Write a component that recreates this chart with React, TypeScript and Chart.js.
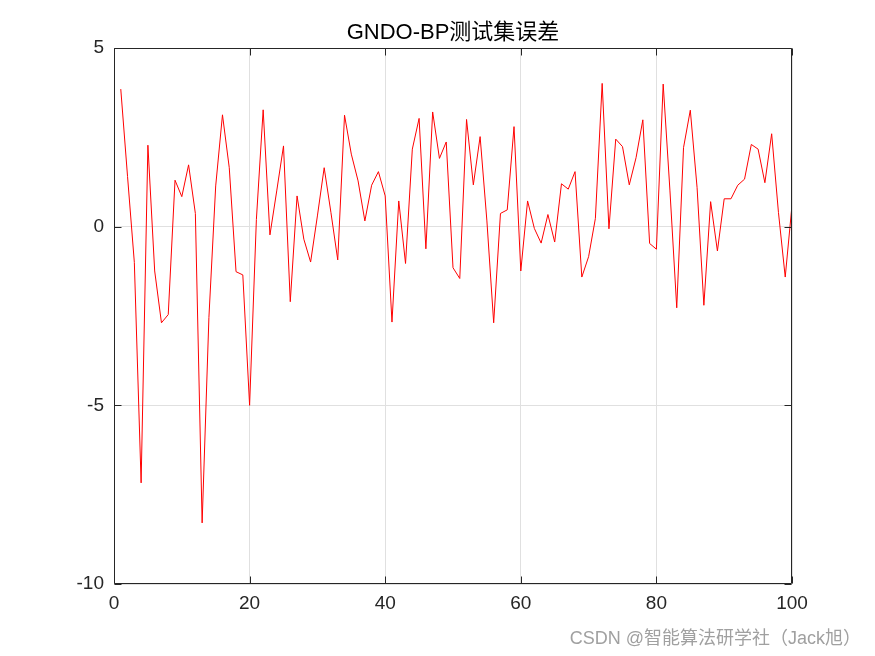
import React, { useEffect, useRef } from "react";
import { Chart, registerables } from "chart.js";

Chart.register(...registerables);

const chartTitle = "GNDO-BP测试集误差";
const watermark = "CSDN @智能算法研学社（Jack旭）";
const xTicks = [0, 20, 40, 60, 80, 100];
const yTicks = [-10, -5, 0, 5];

const errors = [
  3.85, 1.4, -1.0, -7.17, 2.28, -1.24, -2.69, -2.46, 1.3, 0.84,
  1.73, 0.37, -8.29, -2.54, 1.14, 3.13, 1.65, -1.26, -1.35, -5.0,
  0.2, 3.27, -0.23, 1.0, 2.26, -2.1, 0.86, -0.35, -0.99, 0.3,
  1.65, 0.39, -0.93, 3.12, 2.03, 1.28, 0.16, 1.16, 1.54, 0.86,
  -2.67, 0.72, -1.03, 2.17, 3.03, -0.62, 3.21, 1.91, 2.37, -1.15,
  -1.45, 3.0, 1.17, 2.52, 0.16, -2.69, 0.37, 0.47, 2.8, -1.24,
  0.72, -0.05, -0.46, 0.34, -0.43, 1.2, 1.05, 1.54, -1.41, -0.84,
  0.23, 4.01, -0.06, 2.45, 2.24, 1.17, 1.93, 2.99, -0.47, -0.63,
  3.99, 1.0, -2.27, 2.21, 3.26, 1.09, -2.2, 0.7, -0.68, 0.78,
  0.78, 1.16, 1.33, 2.3, 2.17, 1.23, 2.6, 0.4, -1.41, 0.6,
];

const FONT = '"Liberation Sans", Arial, "Noto Sans CJK SC", sans-serif';
const AXIS = "#262626";

const framePlugin = {
  id: "matlabFrame",
  afterDatasetsDraw(chart: any) {
    const { ctx, chartArea, scales } = chart;
    const { left, right, top, bottom } = chartArea;
    const x = scales.x;
    const y = scales.y;
    ctx.save();
    ctx.strokeStyle = AXIS;
    ctx.lineWidth = 1;
    const L = Math.round(left) + 0.5;
    const R = Math.round(right) - 0.5;
    const T = Math.round(top) + 0.5;
    const B = Math.round(bottom) - 0.5;
    ctx.beginPath();
    ctx.rect(L, T, R - L, B - T);
    ctx.stroke();
    const tl = 7;
    ctx.beginPath();
    xTicks.forEach((v) => {
      const px = Math.round(x.getPixelForValue(v)) + 0.5;
      ctx.moveTo(px, B);
      ctx.lineTo(px, B - tl);
      ctx.moveTo(px, T);
      ctx.lineTo(px, T + tl);
    });
    yTicks.forEach((v) => {
      const py = Math.round(y.getPixelForValue(v)) + 0.5;
      ctx.moveTo(L, py);
      ctx.lineTo(L + tl, py);
      ctx.moveTo(R, py);
      ctx.lineTo(R - tl, py);
    });
    ctx.stroke();

    ctx.fillStyle = "#000000";
    ctx.font = `22px ${FONT}`;
    ctx.textAlign = "center";
    ctx.textBaseline = "middle";
    ctx.fillText(chartTitle, (left + right) / 2, 33);

    ctx.fillStyle = "#a0a0a0";
    ctx.font = `18px ${FONT}`;
    ctx.textAlign = "right";
    ctx.fillText(watermark, 861, 639);
    ctx.restore();
  },
};

export default function App() {
  const ref = useRef<HTMLCanvasElement>(null);
  useEffect(() => {
    if (!ref.current) return;
    const chart = new Chart(ref.current, {
      type: "line",
      data: {
        datasets: [
          {
            data: errors.map((v, i) => ({ x: i + 1, y: v })),
            borderColor: "#ff0000",
            borderWidth: 1,
            pointRadius: 0,
            tension: 0,
            fill: false,
          },
        ],
      },
      options: {
        animation: false,
        responsive: false,
        events: [],
        layout: { padding: { top: 48, right: 83, bottom: 0, left: 0 } },
        plugins: {
          legend: { display: false },
          title: { display: false },
          tooltip: { enabled: false },
        },
        scales: {
          x: {
            type: "linear",
            min: 0,
            max: 100,
            afterFit: (s: any) => {
              s.height = 72;
            },
            afterBuildTicks: (s: any) => {
              s.ticks = xTicks.map((v) => ({ value: v }));
            },
            ticks: {
              color: AXIS,
              font: { family: FONT, size: 19 },
              padding: 8,
              maxRotation: 0,
            },
            grid: { color: "#e0e0e0", drawTicks: false },
            border: { display: false },
          },
          y: {
            type: "linear",
            min: -10,
            max: 5,
            afterFit: (s: any) => {
              s.width = 114;
            },
            afterBuildTicks: (s: any) => {
              s.ticks = yTicks.map((v) => ({ value: v }));
            },
            ticks: {
              color: AXIS,
              font: { family: FONT, size: 19 },
              padding: 10,
            },
            grid: { color: "#e0e0e0", drawTicks: false },
            border: { display: false },
          },
        },
      },
      plugins: [framePlugin],
    });
    return () => chart.destroy();
  }, []);
  return (
    <div style={{ position: "absolute", left: 0, top: 0, width: 875, height: 656, background: "#fff" }}>
      <canvas ref={ref} width={875} height={656} style={{ display: "block" }} />
    </div>
  );
}
